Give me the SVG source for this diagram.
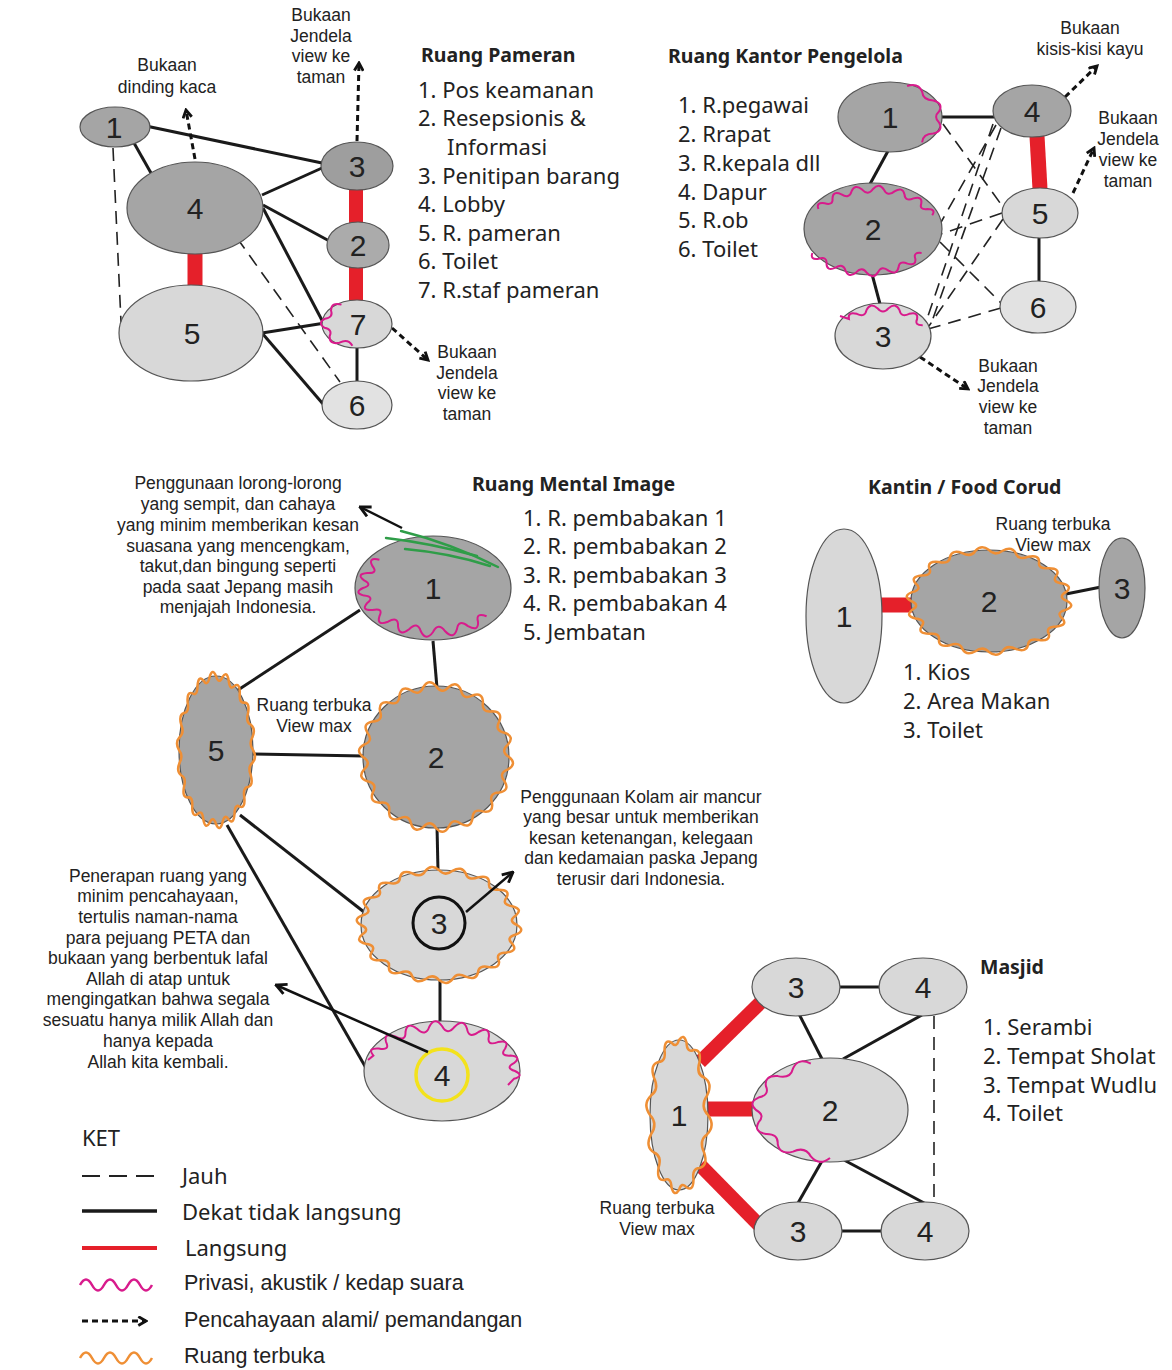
<svg xmlns="http://www.w3.org/2000/svg" xmlns:xlink="http://www.w3.org/1999/xlink" width="1172" height="1370" viewBox="0 0 1172 1370">
  <style>
    .dark { fill: #a5a5a5; stroke: #555; stroke-width: 1.2; }
    .light { fill: #d8d8d8; stroke: #555; stroke-width: 1.2; }
    .num { font-family: "Liberation Sans", Arial, sans-serif; font-size: 30px; fill: #222; text-anchor: middle; }
    .title { font-family: "Noto Sans", "DejaVu Sans", sans-serif; font-weight: bold; font-size: 19.5px; fill: #222; }
    .list { font-family: "Noto Sans", "DejaVu Sans", sans-serif; font-size: 22px; fill: #222; }
    .note { font-family: "Liberation Sans", Arial, sans-serif; font-size: 17.5px; fill: #222; text-anchor: middle; }
    .leg { font-family: "Liberation Sans", Arial, sans-serif; font-size: 21.5px; fill: #222; }
    .near { stroke: #1a1a1a; stroke-width: 3; fill: none; }
    .far { stroke: #222; stroke-width: 1.6; stroke-dasharray: 13 8; fill: none; }
    .direct { stroke: #e5202a; stroke-width: 14; fill: none; }
    .view { stroke: #111; stroke-width: 3; stroke-dasharray: 6 4; fill: none; marker-end: url(#chev); }
    .pointer { stroke: #111; stroke-width: 2.5; fill: none; marker-end: url(#head); }
    .privacy { stroke: #d81b8c; stroke-width: 2; fill: none; }
    .open { stroke: #ef8f35; stroke-width: 2.5; fill: none; }
    .leaf { stroke: #2f9d48; stroke-width: 2.4; fill: none; stroke-linecap: round; }
  </style>
  <defs>
    <marker id="chev" viewBox="0 0 10 10" refX="8" refY="5" markerWidth="11" markerHeight="11" markerUnits="userSpaceOnUse" orient="auto">
      <path d="M1,1 L8,5 L1,9" fill="none" stroke="#111" stroke-width="2.6"/>
    </marker>
    <marker id="head" viewBox="0 0 10 10" refX="9" refY="5" markerWidth="13" markerHeight="13" markerUnits="userSpaceOnUse" orient="auto">
      <path d="M1,1 L9,5 L1,9" fill="none" stroke="#111" stroke-width="2.2"/>
    </marker>
    <!-- closed wavy outline, 18 waves on a radius-100 circle -->
    <path id="w18" vector-effect="non-scaling-stroke" d="M100,0 Q111.57,9.77 98.48,17.36 Q85,22.78 93.97,34.2 Q101.51,47.33 86.6,50 Q72.09,50.48 76.6,64.28 Q79.2,79.2 64.28,76.6 Q50.48,72.09 50,86.6 Q47.33,101.51 34.2,93.97 Q22.78,85 17.36,98.48 Q9.77,111.57 0,100 Q-7.67,87.67 -17.36,98.48 Q-28.99,108.18 -34.2,93.97 Q-37.19,79.75 -50,86.6 Q-64.24,91.75 -64.28,76.6 Q-62.23,62.23 -76.6,64.28 Q-91.75,64.24 -86.6,50 Q-79.75,37.19 -93.97,34.2 Q-108.18,28.99 -98.48,17.36 Q-87.67,7.67 -100,0 Q-111.57,-9.77 -98.48,-17.36 Q-85,-22.78 -93.97,-34.2 Q-101.51,-47.33 -86.6,-50 Q-72.09,-50.48 -76.6,-64.28 Q-79.2,-79.2 -64.28,-76.6 Q-50.48,-72.09 -50,-86.6 Q-47.33,-101.51 -34.2,-93.97 Q-22.78,-85 -17.36,-98.48 Q-9.77,-111.57 0,-100 Q7.67,-87.67 17.36,-98.48 Q28.99,-108.18 34.2,-93.97 Q37.19,-79.75 50,-86.6 Q64.24,-91.75 64.28,-76.6 Q62.23,-62.23 76.6,-64.28 Q91.75,-64.24 86.6,-50 Q79.75,-37.19 93.97,-34.2 Q108.18,-28.99 98.48,-17.36 Q87.67,-7.67 100,0 Z"/>
    <!-- closed wavy outline for a tall 29x75 ellipse, 12 waves -->
    <path id="w12" vector-effect="non-scaling-stroke" d="M29,0 Q36.7,10.8 28,19.4 Q19.4,25.6 25.1,37.5 Q29.4,50.5 20.5,53 Q12.8,53.2 14.5,65 Q14.2,76.7 7.5,72.4 Q2.7,66.4 0,75 Q-4.8,82.3 -7.5,72.4 Q-8,61.9 -14.5,65 Q-22.5,65.9 -20.5,53 Q-16.7,40.8 -25.1,37.5 Q-34.2,31.8 -28,19.4 Q-20.8,8.7 -29,0 Q-36.7,-10.8 -28,-19.4 Q-19.4,-25.6 -25.1,-37.5 Q-29.4,-50.5 -20.5,-53 Q-12.8,-53.2 -14.5,-65 Q-14.2,-76.7 -7.5,-72.4 Q-2.7,-66.4 0,-75 Q4.8,-82.3 7.5,-72.4 Q8,-61.9 14.5,-65 Q22.5,-65.9 20.5,-53 Q16.7,-40.8 25.1,-37.5 Q34.2,-31.8 28,-19.4 Q20.8,-8.7 29,0 Z"/>
  </defs>

  <rect width="1172" height="1370" fill="#ffffff"/>

  <!-- ===== connectors (drawn beneath the rooms) ===== -->
  <g id="connectors">
    <!-- Ruang Pameran -->
    <path class="near" d="M146,126 L322,163"/>
    <path class="near" d="M134,143 L151,173"/>
    <path class="far" d="M113,148 L121,322"/>
    <path class="near" d="M262,195 L322,168"/>
    <path class="near" d="M263,205 L333,243"/>
    <path class="near" d="M263,208 L325,326"/>
    <path class="far" d="M237,238 L340,382"/>
    <path class="direct" style="stroke-width:15" d="M195,250 L195,290"/>
    <path class="direct" d="M356,188 L356,224"/>
    <path class="direct" d="M356,266 L356,302"/>
    <path class="near" d="M262,333 L325,323"/>
    <path class="near" d="M262,333 L323,404"/>
    <path class="near" d="M357,346 L357,382"/>
    <path class="view" d="M195,159 L186,110"/>
    <path class="view" d="M357,141 L359,63"/>
    <path class="view" d="M392,328 L428,360"/>

    <!-- Ruang Kantor Pengelola -->
    <path class="near" d="M942,117 L994,117"/>
    <path class="near" d="M888,151 L870,184"/>
    <path class="near" d="M872,274 L880,304"/>
    <path class="direct" style="stroke-width:15" d="M1037,136 L1040,189"/>
    <path class="near" d="M1039,237 L1039,282"/>
    <path class="far" d="M943,124 L1003,207"/>
    <path class="far" d="M996,125 L940,224"/>
    <path class="far" d="M993,124 L926,322"/>
    <path class="far" d="M1001,128 L931,324"/>
    <path class="far" d="M1002,213 L941,234"/>
    <path class="far" d="M1003,219 L929,326"/>
    <path class="far" d="M940,242 L1001,303"/>
    <path class="far" d="M1001,308 L928,329"/>
    <path class="view" d="M1065,97 L1097,66"/>
    <path class="view" d="M1073,193 L1094,148"/>
    <path class="view" d="M920,357 L968,389"/>

    <!-- Ruang Mental Image -->
    <path class="near" d="M360,610 L238,690"/>
    <path class="near" d="M433,641 L437,688"/>
    <path class="near" d="M252,754 L364,756"/>
    <path class="near" d="M437,826 L438,871"/>
    <path class="near" d="M240,815 L364,912"/>
    <path class="near" d="M227,825 L366,1068"/>
    <path class="near" d="M440,979 L440,1022"/>

    <!-- Kantin / Food Court -->
    <path class="direct" style="stroke-width:15" d="M880,605 L915,605"/>
    <path class="near" d="M1066,594 L1101,587"/>

    <!-- Masjid -->
    <path class="direct" d="M700,1062 L760,1003"/>
    <path class="direct" style="stroke-width:15" d="M706,1109 L755,1109"/>
    <path class="direct" d="M700,1165 L762,1228"/>
    <path class="near" d="M838,987 L881,987"/>
    <path class="near" d="M840,1231 L883,1231"/>
    <path class="near" d="M799,1014 L822,1059"/>
    <path class="near" d="M922,1015 L843,1059"/>
    <path class="near" d="M822,1161 L798,1203"/>
    <path class="near" d="M844,1160 L926,1204"/>
    <path class="far" d="M934,1016 L934,1204"/>
  </g>

  <!-- ===== Ruang Pameran rooms ===== -->
  <g id="pameran-1"><ellipse class="dark" cx="115" cy="127" rx="35" ry="20"/><text class="num" x="114" y="138">1</text></g>
  <g id="pameran-4"><ellipse class="dark" cx="195" cy="208" rx="68" ry="46"/><text class="num" x="195" y="219">4</text></g>
  <g id="pameran-5"><ellipse class="light" cx="191" cy="333" rx="72" ry="48"/><text class="num" x="192" y="344">5</text></g>
  <g id="pameran-3"><ellipse class="dark" cx="357" cy="166" rx="36" ry="24" style="fill:#9e9e9e"/><text class="num" x="357" y="177">3</text></g>
  <g id="pameran-2"><ellipse class="dark" cx="358" cy="245" rx="31" ry="23" style="fill:#ababab"/><text class="num" x="358" y="256">2</text></g>
  <g id="pameran-7"><ellipse class="light" cx="357" cy="324" rx="35" ry="24"/>
    <path class="privacy" d="M341.5,304.6 Q331.3,301.8 331,310.5 Q333.6,317.4 325,318.7 Q317,323 324.5,327.8 Q332.9,329.6 329.6,336.3 Q329.2,344.9 339.5,342.7 Q348.1,338.1 352.4,345.8"/>
    <text class="num" x="358" y="335">7</text></g>
  <g id="pameran-6"><ellipse class="light" cx="357" cy="405" rx="35" ry="24" style="fill:#e2e2e2"/><text class="num" x="357" y="416">6</text></g>

  <!-- ===== Ruang Kantor Pengelola rooms ===== -->
  <g id="kantor-1"><ellipse class="dark" cx="890" cy="117" rx="52" ry="35"/>
    <path class="privacy" d="M907.1,86 Q918.5,82.4 922.1,91.7 Q922.9,100.3 933.3,100.5 Q943.6,103.3 939.2,111.3 Q933,117 939.2,122.7 Q943.6,130.7 933.3,133.5 Q922.9,133.7 922.1,142.3"/>
    <text class="num" x="890" y="128">1</text></g>
  <g id="kantor-2"><ellipse class="dark" cx="873" cy="229" rx="69" ry="46"/>
    <path class="privacy" d="M818.4,209 Q815.7,202 824.7,203.3 Q833.4,205.7 832.5,198.4 Q832.8,190.5 841.5,194.4 Q849.3,199.1 851.5,191.4 Q854.9,183.6 862.1,189.6 Q868.1,196.1 873,189 Q879.1,182.2 883.9,189.6 Q887.5,197.1 894.5,191.4 Q902.6,186.4 904.5,194.4 Q905.1,202 913.5,198.4 Q922.5,195.8 921.3,203.3 Q918.9,210.1 927.6,209 Q936.4,209.1 932.2,215.3"/>
    <path class="privacy" transform="matrix(1 0 0 -1 -6 462)" d="M818.4,209 Q815.7,202 824.7,203.3 Q833.4,205.7 832.5,198.4 Q832.8,190.5 841.5,194.4 Q849.3,199.1 851.5,191.4 Q854.9,183.6 862.1,189.6 Q868.1,196.1 873,189 Q879.1,182.2 883.9,189.6 Q887.5,197.1 894.5,191.4 Q902.6,186.4 904.5,194.4 Q905.1,202 913.5,198.4 Q922.5,195.8 921.3,203.3 Q918.9,210.1 927.6,209"/>
    <text class="num" x="873" y="240">2</text></g>
  <g id="kantor-3"><ellipse class="light" cx="883" cy="336" rx="48" ry="33"/>
    <path class="privacy" d="M840,316 L848.9,319 Q847.6,311.3 856.8,313.8 Q865,317.8 866.5,310.1 Q870.1,302.2 877.4,308.2 Q883,315 888.6,308.2 Q895.9,302.2 899.5,310.1 Q901,317.8 909.2,313.8 Q918.4,311.3 917.1,319 Q914.2,325.5 922.7,325.3"/>
    <text class="num" x="883" y="347">3</text></g>
  <g id="kantor-4"><ellipse class="dark" cx="1032" cy="111" rx="39" ry="26"/><text class="num" x="1032" y="122">4</text></g>
  <g id="kantor-5"><ellipse class="light" cx="1040" cy="213" rx="38" ry="25"/><text class="num" x="1040" y="224">5</text></g>
  <g id="kantor-6"><ellipse class="light" cx="1038" cy="307" rx="38" ry="26" style="fill:#e2e2e2"/><text class="num" x="1038" y="318">6</text></g>

  <!-- ===== Ruang Mental Image rooms ===== -->
  <g id="mental-1"><ellipse class="dark" cx="433" cy="588" rx="78" ry="52"/>
    <path class="leaf" d="M386,538 Q430,543 477,556"/>
    <path class="leaf" d="M401,531 Q450,543 498,567"/>
    <path class="leaf" d="M405,549 Q450,553 490,566"/>
    <path class="privacy" d="M379.4,559.7 Q367.5,557 372.4,566 Q378.6,573.6 367.2,573 Q355.7,574 364.1,580.4 Q373.2,585 363,588 Q353.3,592.7 364.1,595.6 Q375,596.8 367.2,603 Q360.5,610.8 372.4,610 Q383.8,607.5 379.4,616.3 Q376.4,626.2 388,621.7 Q398.6,615.9 398,626.1 Q399.2,636.9 409.1,629.3 Q417.5,620.8 420.8,631.3 Q426,641.8 433,632 Q438.2,621.9 445.2,631.3 Q453.7,640.2 456.9,629.3 Q458.4,618.8 468,626.1 Q478.9,632.2 478,621.7 Q475.4,612 486.6,616.3"/>
    <text class="num" x="433" y="599">1</text></g>
  <g id="mental-2"><ellipse class="dark" cx="436" cy="757" rx="73" ry="71"/>
    <use xlink:href="#w18" class="open" transform="translate(436,757) scale(0.73,0.71)"/>
    <text class="num" x="436" y="768">2</text></g>
  <g id="mental-5"><ellipse class="dark" cx="216" cy="750" rx="37" ry="74"/>
    <use xlink:href="#w18" class="open" transform="translate(216,750) scale(0.37,0.74)"/>
    <text class="num" x="216" y="761">5</text></g>
  <g id="mental-3"><ellipse class="light" cx="439" cy="925" rx="78" ry="55"/>
    <use xlink:href="#w18" class="open" transform="translate(439,925) scale(0.78,0.55)"/>
    <circle cx="439" cy="923" r="26" fill="none" stroke="#111" stroke-width="3"/>
    <text class="num" x="439" y="934">3</text></g>
  <g id="mental-4"><ellipse class="light" cx="442" cy="1071" rx="78" ry="50"/>
    <path class="privacy" d="M368,1060 L373.4,1055.6 Q366.8,1047.8 378.8,1048.5 Q390.4,1050.9 386.1,1042.1 Q383.3,1032.1 395.1,1036.5 Q405.9,1042.3 405.5,1032 Q406.9,1021.2 417,1028.7 Q425.7,1037.2 429.3,1026.7 Q434.8,1016.2 442,1026 Q447.5,1036.1 454.7,1026.7 Q463.5,1017.9 467,1028.7 Q468.6,1039.3 478.5,1032 Q489.6,1025.9 488.9,1036.5 Q486.5,1046.3 497.9,1042.1 Q510,1039.5 505.2,1048.5 Q499.1,1056.2 510.6,1055.6 Q522.2,1056.8 513.9,1063.2 Q504.8,1067.9 515,1071 Q524.7,1075.8 513.9,1078.8 L508,1085"/>
    <circle cx="442" cy="1075" r="26" fill="none" stroke="#f3e21c" stroke-width="3.5"/>
    <text class="num" x="442" y="1086">4</text></g>

  <!-- ===== Kantin / Food Court rooms ===== -->
  <g id="kantin-1"><ellipse class="light" cx="844" cy="616" rx="38" ry="87"/><text class="num" x="844" y="627">1</text></g>
  <g id="kantin-2"><ellipse class="dark" cx="989" cy="601" rx="78" ry="51"/>
    <use xlink:href="#w18" class="open" transform="translate(989,601) scale(0.78,0.51)"/>
    <text class="num" x="989" y="612">2</text></g>
  <g id="kantin-3"><ellipse class="dark" cx="1122" cy="588" rx="23" ry="50"/><text class="num" x="1122" y="599">3</text></g>

  <!-- ===== Masjid rooms ===== -->
  <g id="masjid-3a"><ellipse class="light" cx="796" cy="987" rx="44" ry="29"/><text class="num" x="796" y="998">3</text></g>
  <g id="masjid-4a"><ellipse class="light" cx="923" cy="987" rx="44" ry="29"/><text class="num" x="923" y="998">4</text></g>
  <g id="masjid-2"><ellipse class="light" cx="830" cy="1110" rx="78" ry="52"/>
    <path class="privacy" d="M810.8,1063.6 Q798.2,1057.3 793,1068.4 Q790.4,1079.1 777.7,1076.1 Q764.1,1075.3 765.9,1086 Q769.9,1095.1 758.5,1097.6 Q747.7,1102.6 756,1110 Q765.6,1115.1 758.5,1122.4 Q753.3,1131.8 765.9,1134 Q778.4,1133.7 777.7,1143.9 Q779.5,1155.2 793,1151.6 Q805.1,1146 810.8,1156.4 Q819.2,1166.5 830,1158"/>
    <text class="num" x="830" y="1121">2</text></g>
  <g id="masjid-1"><ellipse class="light" cx="679" cy="1115" rx="29" ry="75"/>
    <use xlink:href="#w12" class="open" transform="translate(679,1115)"/>
    <text class="num" x="679" y="1126">1</text></g>
  <g id="masjid-3b"><ellipse class="light" cx="798" cy="1231" rx="44" ry="29"/><text class="num" x="798" y="1242">3</text></g>
  <g id="masjid-4b"><ellipse class="light" cx="925" cy="1231" rx="44" ry="29"/><text class="num" x="925" y="1242">4</text></g>

  <!-- ===== call-out arrows drawn over the rooms ===== -->
  <g id="callouts">
    <path class="pointer" d="M402,528 L360,507"/>
    <path class="pointer" d="M466,912 L513,872"/>
    <path class="pointer" d="M428,1052 L276,985"/>
  </g>

  <!-- ===== headings and room lists ===== -->
  <g id="lists">
    <text class="title" x="421" y="62">Ruang Pameran</text>
    <text class="list" x="418" y="98">1. Pos keamanan</text>
    <text class="list" x="418" y="126">2. Resepsionis &amp;</text>
    <text class="list" x="447" y="155">Informasi</text>
    <text class="list" x="418" y="184">3. Penitipan barang</text>
    <text class="list" x="418" y="212">4. Lobby</text>
    <text class="list" x="418" y="241">5. R. pameran</text>
    <text class="list" x="418" y="269">6. Toilet</text>
    <text class="list" x="418" y="298">7. R.staf pameran</text>

    <text class="title" x="668" y="63">Ruang Kantor Pengelola</text>
    <text class="list" x="678" y="113">1. R.pegawai</text>
    <text class="list" x="678" y="142">2. Rrapat</text>
    <text class="list" x="678" y="171">3. R.kepala dll</text>
    <text class="list" x="678" y="200">4. Dapur</text>
    <text class="list" x="678" y="228">5. R.ob</text>
    <text class="list" x="678" y="257">6. Toilet</text>

    <text class="title" x="472" y="491">Ruang Mental Image</text>
    <text class="list" x="523" y="526">1. R. pembabakan 1</text>
    <text class="list" x="523" y="554">2. R. pembabakan 2</text>
    <text class="list" x="523" y="583">3. R. pembabakan 3</text>
    <text class="list" x="523" y="611">4. R. pembabakan 4</text>
    <text class="list" x="523" y="640">5. Jembatan</text>

    <text class="title" x="868" y="494">Kantin / Food Corud</text>
    <text class="list" x="903" y="680">1. Kios</text>
    <text class="list" x="903" y="709">2. Area Makan</text>
    <text class="list" x="903" y="738">3. Toilet</text>

    <text class="title" x="980" y="974">Masjid</text>
    <text class="list" x="983" y="1035">1. Serambi</text>
    <text class="list" x="983" y="1064">2. Tempat Sholat</text>
    <text class="list" x="983" y="1093">3. Tempat Wudlu</text>
    <text class="list" x="983" y="1121">4. Toilet</text>
  </g>

  <!-- ===== notes ===== -->
  <g id="notes">
    <text class="note" x="167" y="71">Bukaan</text>
    <text class="note" x="167" y="93">dinding kaca</text>
    <text class="note" x="321" y="21">Bukaan</text>
    <text class="note" x="321" y="42">Jendela</text>
    <text class="note" x="321" y="62">view ke</text>
    <text class="note" x="321" y="83">taman</text>
    <text class="note" x="467" y="358">Bukaan</text>
    <text class="note" x="467" y="379">Jendela</text>
    <text class="note" x="467" y="399">view ke</text>
    <text class="note" x="467" y="420">taman</text>

    <text class="note" x="1090" y="34">Bukaan</text>
    <text class="note" x="1090" y="55">kisis-kisi kayu</text>
    <text class="note" x="1128" y="124">Bukaan</text>
    <text class="note" x="1128" y="145">Jendela</text>
    <text class="note" x="1128" y="166">view ke</text>
    <text class="note" x="1128" y="187">taman</text>
    <text class="note" x="1008" y="372">Bukaan</text>
    <text class="note" x="1008" y="392">Jendela</text>
    <text class="note" x="1008" y="413">view ke</text>
    <text class="note" x="1008" y="434">taman</text>

    <text class="note" x="238" y="489">Penggunaan lorong-lorong</text>
    <text class="note" x="238" y="510">yang sempit, dan cahaya</text>
    <text class="note" x="238" y="531">yang minim memberikan kesan</text>
    <text class="note" x="238" y="552">suasana yang mencengkam,</text>
    <text class="note" x="238" y="572">takut,dan bingung seperti</text>
    <text class="note" x="238" y="593">pada saat Jepang masih</text>
    <text class="note" x="238" y="613">menjajah Indonesia.</text>

    <text class="note" x="314" y="711">Ruang terbuka</text>
    <text class="note" x="314" y="732">View max</text>

    <text class="note" x="641" y="803">Penggunaan Kolam air mancur</text>
    <text class="note" x="641" y="823">yang besar untuk memberikan</text>
    <text class="note" x="641" y="844">kesan ketenangan, kelegaan</text>
    <text class="note" x="641" y="864">dan kedamaian paska Jepang</text>
    <text class="note" x="641" y="885">terusir dari Indonesia.</text>

    <text class="note" x="158" y="882">Penerapan ruang yang</text>
    <text class="note" x="158" y="902">minim pencahayaan,</text>
    <text class="note" x="158" y="923">tertulis naman-nama</text>
    <text class="note" x="158" y="944">para pejuang PETA dan</text>
    <text class="note" x="158" y="964">bukaan yang berbentuk lafal</text>
    <text class="note" x="158" y="985">Allah di atap untuk</text>
    <text class="note" x="158" y="1005">mengingatkan bahwa segala</text>
    <text class="note" x="158" y="1026">sesuatu hanya milik Allah dan</text>
    <text class="note" x="158" y="1047">hanya kepada</text>
    <text class="note" x="158" y="1068">Allah kita kembali.</text>

    <text class="note" x="1053" y="530">Ruang terbuka</text>
    <text class="note" x="1053" y="551">View max</text>

    <text class="note" x="657" y="1214">Ruang terbuka</text>
    <text class="note" x="657" y="1235">View max</text>
  </g>

  <!-- ===== legend ===== -->
  <g id="legend">
    <text class="list" x="82" y="1146">KET</text>
    <path class="far" style="stroke-dasharray:18 9; stroke-width:1.8" d="M82,1176 L154,1176"/>
    <text class="list" x="182" y="1184">Jauh</text>
    <path class="near" style="stroke-width:3.5" d="M82,1211 L157,1211"/>
    <text class="list" x="182" y="1220">Dekat tidak langsung</text>
    <path class="direct" style="stroke-width:4" d="M82,1248 L157,1248"/>
    <text class="list" x="185" y="1256">Langsung</text>
    <path class="privacy" style="stroke-width:2.5" d="M80,1285 q6,-11 12,0 t12,0 t12,0 t12,0 t12,0 t12,0"/>
    <text class="leg" x="184" y="1290">Privasi, akustik / kedap suara</text>
    <path class="view" d="M82,1321 L146,1321"/>
    <text class="leg" x="184" y="1327">Pencahayaan alami/ pemandangan</text>
    <path class="open" d="M80,1358 q6,-11 12,0 t12,0 t12,0 t12,0 t12,0 t12,0"/>
    <text class="leg" x="184" y="1363">Ruang terbuka</text>
  </g>
</svg>
